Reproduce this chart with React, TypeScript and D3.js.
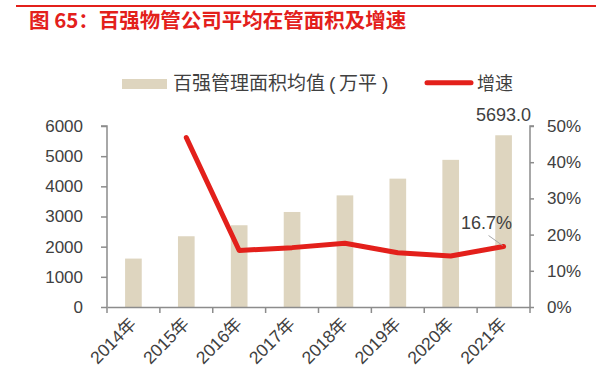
import React, { useEffect, useRef } from 'react'
import * as d3 from 'd3'

const years = ['2014年', '2015年', '2016年', '2017年', '2018年', '2019年', '2020年', '2021年']
const avgArea = [1605, 2345, 2710, 3150, 3700, 4255, 4878, 5693.0]
const growth = [null, 0.468, 0.156, 0.164, 0.176, 0.15, 0.141, 0.167]
const leftTicks = [0, 1000, 2000, 3000, 4000, 5000, 6000]
const rightTicks = [0, 0.1, 0.2, 0.3, 0.4, 0.5]

const W = 596
const H = 387
const FONT = 'Arial, "Liberation Sans", "Noto Sans CJK SC", sans-serif'
const CJK = '"Noto Sans CJK SC", sans-serif'

export default function App() {
  const ref = useRef<SVGSVGElement | null>(null)

  useEffect(() => {
    if (!ref.current) return
    const svg = d3.select(ref.current)
    svg.selectAll('*').remove()

    const left = 107
    const right = 530
    const top = 126
    const bottom = 307

    const x = d3.scaleBand().domain(years).range([left, right]).paddingInner(0.685).paddingOuter(0.342)
    const xc = d3.scaleBand().domain(years).range([left, right])
    const y = d3.scaleLinear().domain([0, 6000]).range([bottom, top])
    const y2 = d3.scaleLinear().domain([0, 0.5]).range([bottom, top])

    // title
    svg.append('line')
      .attr('x1', 16).attr('x2', W).attr('y1', 6).attr('y2', 6)
      .attr('stroke', '#e3201b').attr('stroke-width', 2)
    svg.append('text')
      .attr('x', 29).attr('y', 28)
      .attr('fill', '#e3201b')
      .attr('font-size', 20.5).attr('font-weight', 'bold')
      .attr('font-family', CJK)
      .text('图 65：百强物管公司平均在管面积及增速')

    // legend
    const txt = '#404040'
    svg.append('rect').attr('x', 122).attr('y', 79).attr('width', 45).attr('height', 10).attr('fill', '#ded5bf')
    const leg = [
      { t: '百强管理面积均值', x: 173, f: CJK },
      { t: '(', x: 329, f: FONT },
      { t: '万平', x: 339, f: CJK },
      { t: ')', x: 382, f: FONT },
    ]
    svg.append('g')
      .selectAll('text')
      .data(leg)
      .join('text')
      .attr('x', (d) => d.x).attr('y', 90)
      .attr('fill', txt).attr('font-size', 19).attr('font-family', (d) => d.f)
      .text((d) => d.t)
    svg.append('line')
      .attr('x1', 427).attr('x2', 471).attr('y1', 82.7).attr('y2', 82.7)
      .attr('stroke', '#e3201b').attr('stroke-width', 5).attr('stroke-linecap', 'round')
    svg.append('text')
      .attr('x', 477).attr('y', 90)
      .attr('fill', txt).attr('font-size', 18).attr('font-family', CJK)
      .text('增速')

    // bars
    svg.append('g')
      .selectAll('rect')
      .data(avgArea)
      .join('rect')
      .attr('x', (_, i) => x(years[i]) as number)
      .attr('width', x.bandwidth())
      .attr('y', (d) => y(d))
      .attr('height', (d) => bottom - y(d))
      .attr('fill', '#ded5bf')

    // axes
    const axisColor = '#8c8c8c'
    const gl = svg.append('g').attr('transform', `translate(${left},0)`)
      .call(d3.axisLeft(y).tickValues(leftTicks).tickSize(6).tickPadding(18).tickFormat(d3.format('d')))
    const gr = svg.append('g').attr('transform', `translate(${right},0)`)
      .call(d3.axisRight(y2).tickValues(rightTicks).tickSize(4).tickPadding(13).tickFormat(d3.format('.0%')))
    const gb = svg.append('g').attr('transform', `translate(0,${bottom})`)
      .call(d3.axisBottom(xc).tickSize(0).tickFormat(() => ''))

    // category boundary ticks on x axis
    const bounds = d3.range(years.length + 1).map((i) => left + i * xc.step())
    gb.selectAll('line.bt')
      .data(bounds)
      .join('line')
      .attr('class', 'bt')
      .attr('x1', (d) => d).attr('x2', (d) => d)
      .attr('y1', 0).attr('y2', 6)
      .attr('stroke', axisColor).attr('stroke-width', 1.5)

    for (const g of [gl, gr, gb]) {
      g.select('.domain').attr('stroke', axisColor).attr('stroke-width', 1.5)
      g.selectAll('.tick line').attr('stroke', axisColor).attr('stroke-width', 1.5)
      g.selectAll('.tick text').attr('fill', txt).attr('font-size', 17).attr('font-family', FONT)
    }
    gl.select('.domain').attr('d', `M-6,${top}H0V${bottom}`)
    gr.select('.domain').attr('d', `M4,${top}H0V${bottom}`)

    // x labels rotated
    svg.append('g')
      .selectAll('text')
      .data(years)
      .join('text')
      .attr('transform', (d) => `translate(${(xc(d) as number) + xc.bandwidth() / 2 + 4},${bottom + 18}) rotate(-45)`)
      .attr('text-anchor', 'end')
      .attr('fill', txt)
      .attr('font-size', 17.5)
      .attr('font-family', FONT)
      .text((d) => d)

    // growth line
    const pts = growth
      .map((g, i) => ({ g, i }))
      .filter((p) => p.g !== null) as { g: number; i: number }[]
    const line = d3.line<{ g: number; i: number }>()
      .x((p) => (xc(years[p.i]) as number) + xc.bandwidth() / 2)
      .y((p) => y2(p.g))
    svg.append('path')
      .datum(pts)
      .attr('d', line)
      .attr('fill', 'none')
      .attr('stroke', '#e3201b')
      .attr('stroke-width', 5)
      .attr('stroke-linejoin', 'round')
      .attr('stroke-linecap', 'round')

    // labels
    const last = years.length - 1
    const cx = (xc(years[last]) as number) + xc.bandwidth() / 2
    svg.append('text')
      .attr('x', cx).attr('y', y(avgArea[last]) - 14)
      .attr('text-anchor', 'middle')
      .attr('fill', txt).attr('font-size', 18).attr('font-family', FONT)
      .text(d3.format('.1f')(avgArea[last]))
    const gy = y2(growth[last] as number)
    svg.append('line')
      .attr('x1', cx - 15).attr('y1', gy - 11).attr('x2', cx - 1).attr('y2', gy - 1)
      .attr('stroke', '#a6a6a6').attr('stroke-width', 1)
    svg.append('text')
      .attr('x', cx - 17).attr('y', gy - 18)
      .attr('text-anchor', 'middle')
      .attr('fill', txt).attr('font-size', 18).attr('font-family', FONT)
      .text(d3.format('.1%')(growth[last] as number))
  }, [])

  return (
    <svg
      ref={ref}
      width={W}
      height={H}
      style={{ position: 'absolute', left: 0, top: 0, background: '#fff' }}
    />
  )
}
